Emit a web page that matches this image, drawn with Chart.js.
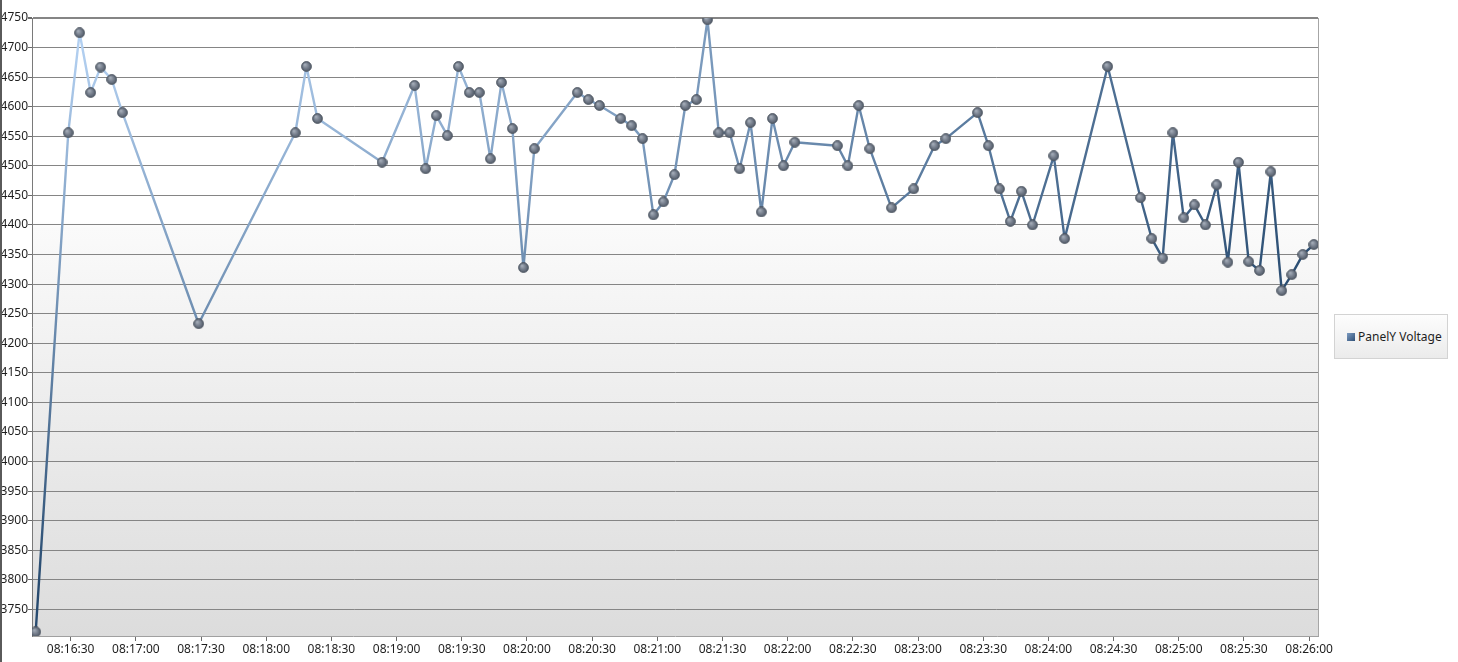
<!DOCTYPE html>
<html>
<head>
<meta charset="utf-8">
<title>PanelY Voltage</title>
<script src="https://cdn.jsdelivr.net/npm/chart.js@4/dist/chart.umd.min.js"></script>
<style>
    html, body { margin: 0; padding: 0; background: #ffffff; }
    body { width: 1458px; height: 662px; position: relative; overflow: hidden; font-family: "Noto Sans", "Open Sans", sans-serif; }
    #wrap { position: absolute; left: 0; top: 0; width: 1458px; height: 662px; }
    #edge { position: absolute; left: 0; top: 0; width: 2px; height: 662px; background: #5a5a5a; }
    #legend {
        position: absolute; left: 1334px; top: 314px; width: 114px; height: 45px;
        box-sizing: border-box; border: 1px solid #d3d3d3;
        background: linear-gradient(#fdfdfd, #ebebeb);
        font-size: 12px; color: #1e1e1e; line-height: 43px; padding-left: 12px; white-space: nowrap;
    }
    #legend span.box {
        display: inline-block; width: 8px; height: 8px; margin-right: 3px;
        background: linear-gradient(135deg, #7d9cc2, #2f5077);
    }
</style>
</head>
<body>
<div id="wrap"><canvas id="voltageChart" width="1458" height="662"></canvas></div>
<div id="edge"></div>
<div id="legend"><span class="box"></span>PanelY Voltage</div>
<script>
// --- Datos ---
const SERIES_NAME = 'PanelY Voltage';

const times = [
    '08:16:13.9', '08:16:28.9', '08:16:34.1', '08:16:39.2', '08:16:43.8', '08:16:48.9', '08:16:53.8',
    '08:17:28.9',
    '08:18:13.4', '08:18:18.5', '08:18:23.6', '08:18:53.3',
    '08:19:08.3', '08:19:13.4', '08:19:18.3', '08:19:23.4', '08:19:28.5', '08:19:33.5', '08:19:38.1',
    '08:19:43.2', '08:19:48.3', '08:19:53.3', '08:19:58.4',
    '08:20:03.4', '08:20:23.2', '08:20:28.3', '08:20:33.4', '08:20:43.2', '08:20:48.2', '08:20:53.2', '08:20:58.2',
    '08:21:02.8', '08:21:07.9', '08:21:12.9', '08:21:18.0', '08:21:23.1', '08:21:28.3', '08:21:33.3',
    '08:21:37.9', '08:21:42.9', '08:21:47.9', '08:21:53.0', '08:21:58.1',
    '08:22:03.3', '08:22:22.9', '08:22:27.7', '08:22:32.7', '08:22:37.8', '08:22:47.8', '08:22:58.0',
    '08:23:07.6', '08:23:12.8', '08:23:27.4', '08:23:32.4', '08:23:37.5', '08:23:42.5', '08:23:47.6', '08:23:52.7',
    '08:24:02.5', '08:24:07.5', '08:24:27.3', '08:24:42.4', '08:24:47.6', '08:24:52.6', '08:24:57.3',
    '08:25:02.3', '08:25:07.2', '08:25:12.3', '08:25:17.5', '08:25:22.6', '08:25:27.5', '08:25:32.2',
    '08:25:37.2', '08:25:42.4', '08:25:47.4', '08:25:52.0', '08:25:57.1', '08:26:02.2'
];

const voltage = [
    3712, 4556, 4725, 4624, 4667, 4646, 4590,
    4233,
    4556, 4668, 4580, 4506,
    4636, 4495, 4585, 4551, 4668, 4624, 4624,
    4512, 4641, 4563, 4328,
    4529, 4624, 4612, 4602, 4580, 4568, 4546, 4417,
    4439, 4485, 4602, 4612, 4747, 4556, 4556,
    4495, 4573, 4422, 4580, 4500,
    4540, 4534, 4500, 4602, 4529, 4429, 4461,
    4534, 4546, 4590, 4534, 4461, 4406, 4457, 4400,
    4517, 4377, 4668, 4446, 4377, 4344, 4556,
    4412, 4434, 4400, 4468, 4337, 4506, 4338,
    4323, 4490, 4289, 4316, 4350, 4367
];

// Límites de los ejes
const xRange = ['08:16:12.2', '08:26:04.1'];
const yRange = [3705, 4750];
const xStepSeconds = 30;
const yStep = 50;

// --- Utilidades de tiempo ---
function toSeconds(str) {
    const parts = str.split(':');
    return parseInt(parts[0], 10) * 3600 + parseInt(parts[1], 10) * 60 + parseFloat(parts[2]);
}

function pad(n) {
    return String(n).padStart(2, '0');
}

function formatTime(sec) {
    const s = Math.round(sec);
    return pad(Math.floor(s / 3600)) + ':' + pad(Math.floor((s % 3600) / 60)) + ':' + pad(s % 60);
}

const points = times.map((t, i) => ({ x: toSeconds(t), y: voltage[i] }));

// Marcador esférico gris para cada punto
function makeMarker() {
    const size = 11;
    const c = document.createElement('canvas');
    c.width = size;
    c.height = size;
    const g = c.getContext('2d');
    const r = size / 2;
    const grad = g.createRadialGradient(r - 1.5, r - 1.8, 0.5, r, r, r);
    grad.addColorStop(0, '#a3abb7');
    grad.addColorStop(0.55, '#6f7886');
    grad.addColorStop(1, '#4d5562');
    g.fillStyle = grad;
    g.beginPath();
    g.arc(r, r, r - 0.6, 0, Math.PI * 2);
    g.fill();
    g.strokeStyle = '#4a525e';
    g.lineWidth = 0.9;
    g.stroke();
    return c;
}
const marker = makeMarker();

// Pincel radial (elíptico) de la serie, como el de la paleta original
let linePattern = null;
function buildLinePattern(chart) {
    const xs = chart.scales.x;
    const ys = chart.scales.y;
    const x0 = xs.getPixelForValue(Math.min(...points.map(p => p.x)));
    const x1 = xs.getPixelForValue(Math.max(...points.map(p => p.x)));
    const y0 = ys.getPixelForValue(Math.max(...voltage));
    const y1 = ys.getPixelForValue(Math.min(...voltage));
    const w = x1 - x0;
    const h = y1 - y0;
    const cx = x0 + 0.075 * w;
    const cy = y0 + 0.014 * h;
    const rx = 1.045 * w;
    const ry = 0.9095 * h;

    const off = document.createElement('canvas');
    off.width = chart.width;
    off.height = chart.height;
    const c = off.getContext('2d');
    c.translate(cx, cy);
    c.scale(1, ry / rx);
    const g = c.createRadialGradient(0, 0, 0, 0, 0, rx);
    g.addColorStop(0, '#b9d6f7');
    g.addColorStop(1, '#284b70');
    c.fillStyle = g;
    c.fillRect(-5000, -5000, 10000, 10000);
    linePattern = chart.ctx.createPattern(off, 'no-repeat');
}

// Fondo del área del gráfico y borde derecho
const plotBackground = {
    id: 'plotBackground',
    afterLayout(chart) {
        buildLinePattern(chart);
    },
    beforeDraw(chart) {
        const { ctx, chartArea } = chart;
        const { left, top, right, bottom } = chartArea;
        const g = ctx.createLinearGradient(0, top, 0, bottom);
        g.addColorStop(0, '#ffffff');
        g.addColorStop(0.33, '#ffffff');
        g.addColorStop(0.34, '#fafafa');
        g.addColorStop(1, '#dcdcdc');
        ctx.save();
        ctx.fillStyle = g;
        ctx.fillRect(left, top, right - left, bottom - top);
        ctx.restore();
    },
    afterDraw(chart) {
        const { ctx, chartArea } = chart;
        ctx.save();
        ctx.strokeStyle = '#a6a6a6';
        ctx.lineWidth = 1;
        ctx.beginPath();
        ctx.moveTo(chartArea.right + 0.5, chartArea.top);
        ctx.lineTo(chartArea.right + 0.5, chartArea.bottom);
        ctx.stroke();
        ctx.restore();
    }
};

const tickFont = { family: '"Noto Sans", "Open Sans", sans-serif', size: 12 };

const chart = new Chart(document.getElementById('voltageChart').getContext('2d'), {
    type: 'line',
    data: {
        datasets: [{
            label: SERIES_NAME,
            data: points,
            borderColor: () => linePattern || '#5f7a9c',
            borderWidth: 2.4,
            borderJoinStyle: 'round',
            borderCapStyle: 'round',
            tension: 0,
            fill: false,
            pointStyle: marker,
            pointRadius: 5.5,
            pointHoverRadius: 5.5
        }]
    },
    options: {
        responsive: false,
        animation: false,
        devicePixelRatio: 1,
        layout: { padding: { left: 0, top: 18, right: 140, bottom: 0 } },
        plugins: {
            legend: { display: false },
            tooltip: { enabled: false }
        },
        scales: {
            x: {
                type: 'linear',
                min: toSeconds(xRange[0]),
                max: toSeconds(xRange[1]),
                afterFit(scale) { scale.height = 26; },
                grid: {
                    drawOnChartArea: false,
                    drawTicks: true,
                    tickLength: 5,
                    tickColor: '#6a6a6a',
                    color: '#6a6a6a'
                },
                border: { display: true, color: '#a0a0a0', width: 1 },
                ticks: {
                    stepSize: xStepSeconds,
                    includeBounds: false,
                    autoSkip: false,
                    maxRotation: 0,
                    padding: 1,
                    color: '#1e1e1e',
                    font: tickFont,
                    callback: (value) => formatTime(value)
                }
            },
            y: {
                type: 'linear',
                min: yRange[0],
                max: yRange[1],
                afterFit(scale) { scale.width = 32; },
                grid: {
                    color: '#858585',
                    lineWidth: (ctx) => (ctx.tick && ctx.tick.value === yRange[1] ? 2 : 1),
                    drawTicks: true,
                    tickLength: 4,
                    tickColor: '#6a6a6a'
                },
                border: { display: true, color: '#7a7a7a', width: 1 },
                ticks: {
                    stepSize: yStep,
                    includeBounds: false,
                    padding: 0,
                    color: '#1e1e1e',
                    font: tickFont,
                    callback: (value) => String(value)
                }
            }
        }
    },
    plugins: [plotBackground]
});
</script>
</body>
</html>
